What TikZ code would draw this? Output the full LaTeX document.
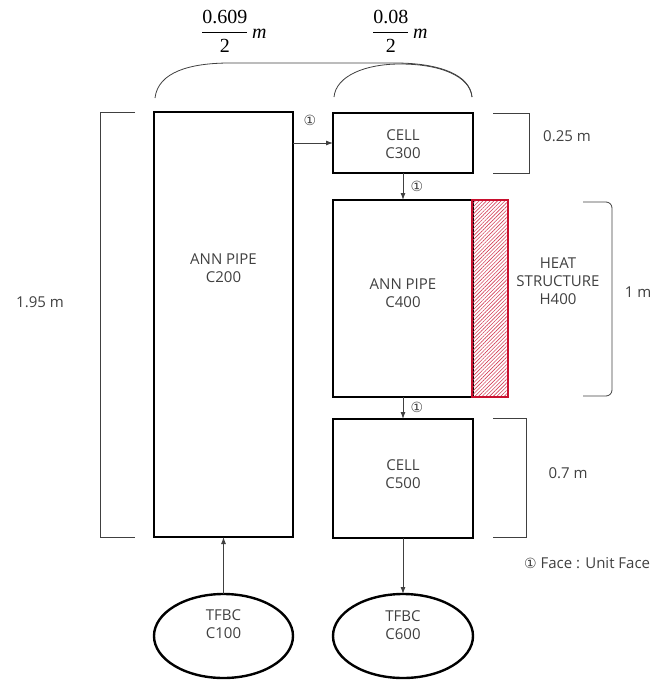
\documentclass[tikz,border=0pt]{standalone}
\usepackage{amsmath}
\usepackage{fontspec}
\setmainfont{Open Sans}
\newfontfamily\symf{DejaVu Sans}
\newfontfamily\timesf{Liberation Serif}
\usetikzlibrary{shapes.geometric,arrows.meta,patterns.meta}
\definecolor{txt}{HTML}{404040}
\definecolor{heat}{HTML}{C8102E}
\newcommand{\tnum}[1]{\text{\timesf #1}}
\begin{document}
\begin{tikzpicture}[x=1pt,y=-1pt,
  box/.style={draw=black,line width=2.4pt,inner sep=0pt,outer sep=0pt,rectangle},
  lbl/.style={text=txt,align=center,inner sep=0pt,font=\fontsize{15}{18}\selectfont},
  ell/.style={draw=black,line width=2.4pt,ellipse,inner sep=0pt,outer sep=0pt},
  arr/.style={draw=txt,line width=0.9pt,-{Latex[length=7pt,width=5pt]}},
  brk/.style={draw=black!75,line width=0.8pt},
  circ/.style={text=txt,inner sep=0pt,font=\symf\fontsize{14}{16}\selectfont},
  frac/.style={inner sep=0pt,anchor=base west,font=\fontsize{20}{24}\selectfont}]
\useasboundingbox (0,0) rectangle (654,680);

% boxes
\node[box,minimum width=139pt,minimum height=425pt] (c200) at (223.5,324.5) {};
\node[box,minimum width=140pt,minimum height=60pt] (c300) at (403,143) {};
\node[box,minimum width=140pt,minimum height=197pt] (c400) at (403,298.5) {};
\node[draw=heat,line width=2pt,inner sep=0pt,minimum width=36pt,minimum height=197pt,
      fill=heat!12,pattern={Lines[angle=45,distance=2.6pt,line width=0.6pt]},pattern color=heat!80] (h400) at (490,298.5) {};
\node[box,minimum width=140pt,minimum height=119pt] (c500) at (403,478.5) {};
\node[ell,minimum width=139pt,minimum height=84pt] (c100) at (223.5,636) {};
\node[ell,minimum width=140pt,minimum height=84pt] (c600) at (403,636) {};

% texts
\node[lbl] (t200) at (223.5,268) {ANN PIPE\\C200};
\node[lbl] (t300) at (403,144) {CELL\\C300};
\node[lbl] (t400) at (403,293) {ANN PIPE\\C400};
\node[lbl] (t500) at (403,474) {CELL\\C500};
\node[lbl] (t100) at (223.5,624) {TFBC\\C100};
\node[lbl] (t600) at (403,625) {TFBC\\C600};
\node[lbl] (th400) at (558,281) {HEAT\\STRUCTURE\\H400};

% connectors
\draw[arr] (c100.north) -- (c200.south);
\draw[arr] (c200.east |- c300.west) -- (c300.west);
\draw[arr] (c300.south) -- (c400.north);
\draw[arr] (c400.south) -- (c500.north);
\draw[arr] (c500.south) -- (c600.north);

% face markers
\node[circ] (f1) at (310,120) {①};
\node[circ] (f2) at (417,186) {①};
\node[circ] (f3) at (417,407) {①};
\node[lbl,anchor=west] (legend) at (524,563) {{\symf\fontsize{14}{16}\selectfont ①} Face : Unit Face};

% dimension brackets
\draw[brk] (135,112) -- (100,112) -- (100,537) -- (135,537);
\node[lbl] (d195) at (40,302) {1.95 m};
\draw[brk] (493,113) -- (529,113) -- (529,173) -- (493,173);
\node[lbl] (d025) at (567,136) {0.25 m};
\draw[brk,rounded corners=6pt] (583,202) -- (612,202) -- (612,396) -- (583,396);
\node[lbl] (d1) at (638,292) {1 m};
\draw[brk] (493,418) -- (526,418) -- (526,537) -- (493,537);
\node[lbl] (d07) at (568,473) {0.7 m};

% top arcs
\draw[brk] (155,98) .. controls (158,72) and (190,63) .. (230,63) -- (395,63)
   .. controls (440,63) and (470,75) .. (472,97);
\draw[brk] (334,97) .. controls (336,76) and (365,64) .. (400,64)
   .. controls (440,64) and (470,76) .. (472,97);
\node[frac] (w1) at (201,38) {$\dfrac{\tnum{0.609}}{\tnum{2}}\,\text{\timesf\itshape m}$};
\node[frac] (w2) at (372,38) {$\dfrac{\tnum{0.08}}{\tnum{2}}\,\text{\timesf\itshape m}$};
\end{tikzpicture}
\end{document}
